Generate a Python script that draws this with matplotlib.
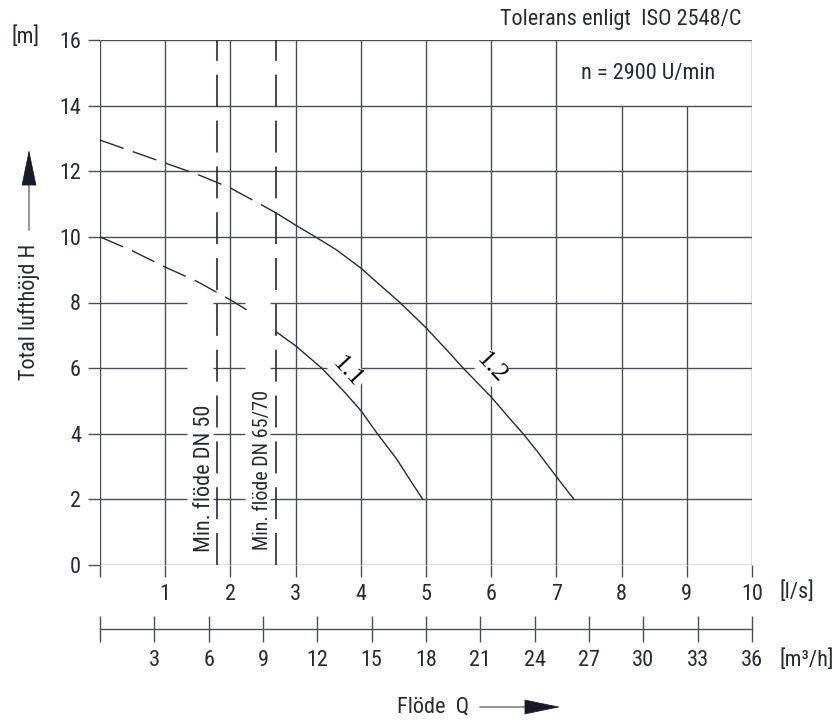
import numpy as np
import matplotlib
matplotlib.use("Agg")
import matplotlib.pyplot as plt
from matplotlib import font_manager as fm

# condensed sans like the original drawing; fall back to what exists
have = {f.name for f in fm.fontManager.ttflist}
narrow = next((n for n in ["Roboto Condensed", "Archivo Narrow", "Liberation Sans Narrow",
                           "Barlow Semi Condensed"] if n in have), "DejaVu Sans")
plt.rcParams['font.family'] = [narrow, 'DejaVu Sans']
plt.rcParams['lines.scale_dashes'] = False

# ---- data ----
flow_ls_ticks = list(range(0, 11))
flow_m3h_ticks = list(range(0, 37, 3))
head_ticks = list(range(0, 17, 2))

# curve 1.2 : dashed part below min flow, then solid
c12_dash_q = [0, 0.5, 1, 1.5, 2, 2.5, 2.7]
c12_dash_h = [12.95, 12.6, 12.25, 11.9, 11.49, 10.95, 10.73]
c12_q = [2.7, 3.0, 3.32, 3.63, 4.0, 4.29, 4.6, 5.0, 5.32, 5.57, 6.0, 6.29, 6.49, 6.7, 7.0, 7.27]
c12_h = [10.73, 10.36, 9.98, 9.60, 9.05, 8.54, 8.0, 7.23, 6.55, 6.0, 5.12, 4.45, 4.0, 3.48, 2.69, 2.0]

# curve 1.1
c11_dash_q = [0, 0.5, 1, 1.5, 1.8, 2, 2.33]
c11_dash_h = [10.0, 9.57, 9.08, 8.63, 8.3, 8.08, 7.68]
c11_q = [2.7, 3.0, 3.4, 3.7, 4.0, 4.24, 4.55, 4.75, 4.95]
c11_h = [7.11, 6.68, 6.0, 5.38, 4.71, 4.04, 3.23, 2.61, 2.0]

# minimum flow lines [l/s]
min_flow_q = [1.8, 2.7]
min_flow_labels = ["Min. flöde DN 50", "Min. flöde DN 65/70"]

W, H = 837, 723
ink = "#262a35"
grid_c = "#4a4d55"
px = 72 / 100  # points per pixel
fs = 16

fig = plt.figure(figsize=(W / 100, H / 100), dpi=100)
ax = fig.add_axes([100 / W, 158 / H, 652 / W, 525 / H])
ax.set_xlim(0, 10)
ax.set_ylim(0, 16)
for s in ax.spines.values():
    s.set_visible(False)

# ---- grid ----
lw_grid = 1.0
for q in flow_ls_ticks:
    top = 14 if q in (8, 9) else 16
    ax.vlines(q, 0, top, color=grid_c, lw=lw_grid, zorder=1)
# rows 2..8 have small breaks near the min-flow labels
breaks = [(1.33, 1.73), (2.22, 2.6)]
for h in head_ticks:
    if 2 <= h <= 8:
        starts = [0, breaks[0][1], breaks[1][1]]
        ends = [breaks[0][0], breaks[1][0], 10]
        ax.hlines([h] * 3, starts, ends, color=grid_c, lw=lw_grid, zorder=1)
    else:
        ax.hlines(h, 0, 10, color=grid_c, lw=lw_grid, zorder=1)

ax.vlines(min_flow_q, 0, 16, color=ink, lw=1.2, linestyles=[(0, (23, 10))], zorder=2)
ax.text(min_flow_q[0] - 0.19, 0.4, min_flow_labels[0], rotation=90, ha="center",
        va="bottom", fontsize=fs, color=ink)
ax.text(min_flow_q[1] - 0.21, 0.45, min_flow_labels[1], rotation=90, ha="center",
        va="bottom", fontsize=14.5, color=ink)

# ---- curves ----
dash = (0, (18, 7))
ax.plot(c12_dash_q, c12_dash_h, color=ink, lw=1.0, ls=dash, zorder=3)
ax.plot(c12_q, c12_h, color=ink, lw=1.0, zorder=3)
ax.plot(c11_dash_q, c11_dash_h, color=ink, lw=1.0, ls=dash, zorder=3)
ax.plot(c11_q, c11_h, color=ink, lw=1.0, zorder=3)

lbl_box = dict(fc="white", ec="none", pad=1)
ax.text(3.8, 5.88, "1.1", rotation=-47, ha="center", va="center", fontsize=19,
        family="Liberation Serif", color="black", bbox=lbl_box, zorder=2)
ax.text(6.0, 6.0, "1.2", rotation=-47, ha="center", va="center", fontsize=19,
        family="Liberation Serif", color="black", bbox=lbl_box, zorder=2)

ax.text(8.4, 14.97, "n = 2900 U/min", ha="center", va="center", fontsize=fs, color=ink)

# ---- ticks ----
ax.set_yticks(head_ticks)
ax.set_xticks(flow_ls_ticks)
ax.set_xticklabels([""] + [str(q) for q in flow_ls_ticks[1:]])
ax.tick_params(axis="both", direction="out", length=12 * px, width=lw_grid,
               color=grid_c, labelsize=fs, labelcolor=ink, pad=7 * px)

sec = ax.secondary_xaxis(-64 / 525, functions=(lambda q: q * 3.6, lambda m: m / 3.6))
sec.set_xticks(flow_m3h_ticks)
sec.set_xticklabels([""] + [str(m) for m in flow_m3h_ticks[1:]])
sec.spines["bottom"].set_color(grid_c)
sec.spines["bottom"].set_linewidth(lw_grid)
sec.tick_params(axis="x", direction="inout", length=26 * px, width=lw_grid,
                color=grid_c, labelsize=fs, labelcolor=ink, pad=8 * px)

# ---- units and titles ----
def ft(x, y, s, **kw):
    fig.text(x / W, 1 - y / H, s, fontsize=fs, color=ink, **kw)

ft(26, 37, "[m]", ha="center", va="center")
ft(742, 20, "Tolerans enligt  ISO 2548/C", ha="right", va="center")
ft(780, 592, "[l/s]", ha="left", va="center")
ft(780, 660, "[m³/h]", ha="left", va="center")
ft(29, 312, "Total lufthöjd H", rotation=90, ha="center", va="center")
ft(397, 707, "Flöde  Q", ha="left", va="center")

def arrow(x0, y0, x1, y1, xh, yh):
    # gray shaft then dark filled head
    ax.annotate("", xy=(xh / W, 1 - yh / H), xytext=(x0 / W, 1 - y0 / H),
                xycoords="figure fraction", annotation_clip=False,
                arrowprops=dict(arrowstyle="-", color="#8a8c90", lw=1.3,
                                shrinkA=0, shrinkB=0))
    ax.annotate("", xy=(x1 / W, 1 - y1 / H), xytext=(xh / W, 1 - yh / H),
                xycoords="figure fraction", annotation_clip=False,
                arrowprops=dict(arrowstyle="-|>,head_length=1.2,head_width=0.25",
                                mutation_scale=20, color="#151a26", lw=0.5,
                                shrinkA=0, shrinkB=0))

arrow(29, 230, 29, 150, 29, 184)
arrow(480, 707, 560, 707, 528, 707)

fig.savefig("out.png", dpi=100)
